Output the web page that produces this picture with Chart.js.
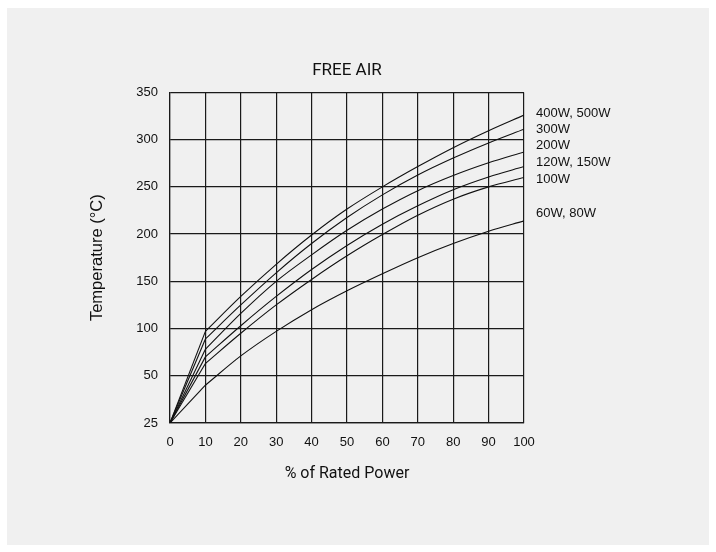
<!DOCTYPE html>
<html>
<head>
<meta charset="utf-8">
<script src="https://cdn.jsdelivr.net/npm/chart.js@4"></script>
<style>
    html, body { margin: 0; padding: 0; background: #fff; }
    #panel { position: absolute; left: 7px; top: 8px; width: 702px; height: 537px; background: #f0f0f0; }
    #wrap { position: absolute; left: 0; top: 0; width: 716px; height: 552px; }
</style>
</head>
<body>
<div id="panel"></div>
<div id="wrap"><canvas id="chart" width="716" height="552"></canvas></div>
<script>
// x values (% of rated power) and the temperature axis labels
const ratedPower = [0, 10, 20, 30, 40, 50, 60, 70, 80, 90, 100];
const yTickValues = [25, 50, 100, 150, 200, 250, 300, 350];

// temperature (°C)
const seriesNames = ['400W, 500W', '300W', '200W', '120W, 150W', '100W', '60W, 80W'];
const temp400W = [25, 97, 134, 168, 199, 226.5, 250, 271.5, 291.5, 309.5, 326];
const temp300W = [25, 89, 125, 159, 190, 217.5, 241.5, 262.5, 280.5, 296.5, 311];
const temp200W = [25, 78, 116, 150, 178, 204, 226.5, 246, 262, 275.5, 287];
const temp120W = [25, 70, 103, 134, 162.5, 188, 210.5, 230, 247, 260.5, 271.5];
const temp100W = [25, 63, 95, 125, 152, 177, 199.5, 220, 237, 250, 260];
const temp60W  = [25, 45, 71, 97, 120, 140, 158, 175, 190, 203, 214];

const seriesTemps = [temp400W, temp300W, temp200W, temp120W, temp100W, temp60W];

// the printed temperature axis is not linear: each grid row is one tick step
function toGrid(t) {
    for (let i = 0; i < yTickValues.length - 1; i++) {
        const lo = yTickValues[i], hi = yTickValues[i + 1];
        if (t <= hi) return i + (t - lo) / (hi - lo);
    }
    return yTickValues.length - 1;
}

const INK = '#111';
const GRID = '#1a1a1a';
const LABEL_FONT = { family: '"Liberation Sans", Arial, sans-serif', size: 13 };

// label nudges (px) so the names sit like the printed ones
const labelNudge = [-2, 0, -6, -4, 2, -7];

const endLabels = {
    id: 'endLabels',
    afterDatasetsDraw(chart) {
        const { ctx, chartArea } = chart;
        ctx.save();
        ctx.font = '13px "Liberation Sans", Arial, sans-serif';
        ctx.fillStyle = INK;
        ctx.textBaseline = 'middle';
        ctx.textAlign = 'left';
        let k = 0;
        chart.data.datasets.forEach((ds, i) => {
            if (!ds.endLabel) return;
            const pts = chart.getDatasetMeta(i).data;
            const last = pts[pts.length - 1];
            ctx.fillText(ds.label, chartArea.right + 12, last.y + labelNudge[k++]);
        });
        ctx.restore();
    }
};

// each curve: a straight run from 0 to 10 %, then a smooth curve to 100 %
const datasets = [];
seriesNames.forEach((name, i) => {
    const pts = ratedPower.map((p, j) => ({ x: p, y: toGrid(seriesTemps[i][j]) }));
    datasets.push({
        label: name + ' (start)',
        data: pts.slice(0, 2),
        borderColor: INK,
        borderWidth: 1.1,
        pointRadius: 0,
        tension: 0
    });
    datasets.push({
        label: name,
        endLabel: true,
        data: pts.slice(1),
        borderColor: INK,
        borderWidth: 1.1,
        pointRadius: 0,
        cubicInterpolationMode: 'monotone'
    });
});

new Chart(document.getElementById('chart'), {
    type: 'line',
    data: { datasets },
    plugins: [endLabels],
    options: {
        responsive: false,
        animation: false,
        layout: { padding: { left: 80, right: 192, top: 0, bottom: 60 } },
        plugins: {
            legend: { display: false },
            tooltip: { enabled: false },
            title: {
                display: true,
                text: 'FREE AIR',
                fullSize: false,
                color: INK,
                font: { family: 'Roboto', size: 17, weight: 'normal' },
                padding: { top: 61, bottom: 11 }
            }
        },
        scales: {
            x: {
                type: 'linear',
                min: 0,
                max: 100,
                ticks: { stepSize: 10, padding: 12, color: INK, font: LABEL_FONT },
                grid: { color: GRID, lineWidth: 1.2, drawTicks: false },
                border: { color: GRID, width: 1.2 },
                title: {
                    display: true,
                    text: '% of Rated Power',
                    color: INK,
                    font: { family: 'Roboto', size: 16 },
                    padding: { top: 0, bottom: 8 }
                },
                afterFit(scale) { scale.height = 552 - 60 - 423; }
            },
            y: {
                type: 'linear',
                min: 0,
                max: yTickValues.length - 1,
                ticks: {
                    stepSize: 1,
                    padding: 12,
                    color: INK,
                    font: LABEL_FONT,
                    callback: v => yTickValues[v]
                },
                grid: { color: GRID, lineWidth: 1.2, drawTicks: false },
                border: { color: GRID, width: 1.2 },
                title: {
                    display: true,
                    text: 'Temperature (°C)',
                    color: INK,
                    font: { family: '"Liberation Sans", Arial, sans-serif', size: 16.5 },
                    padding: { top: 8, bottom: 0 }
                },
                afterFit(scale) { scale.width = 90; }
            }
        }
    }
});
</script>
</body>
</html>
